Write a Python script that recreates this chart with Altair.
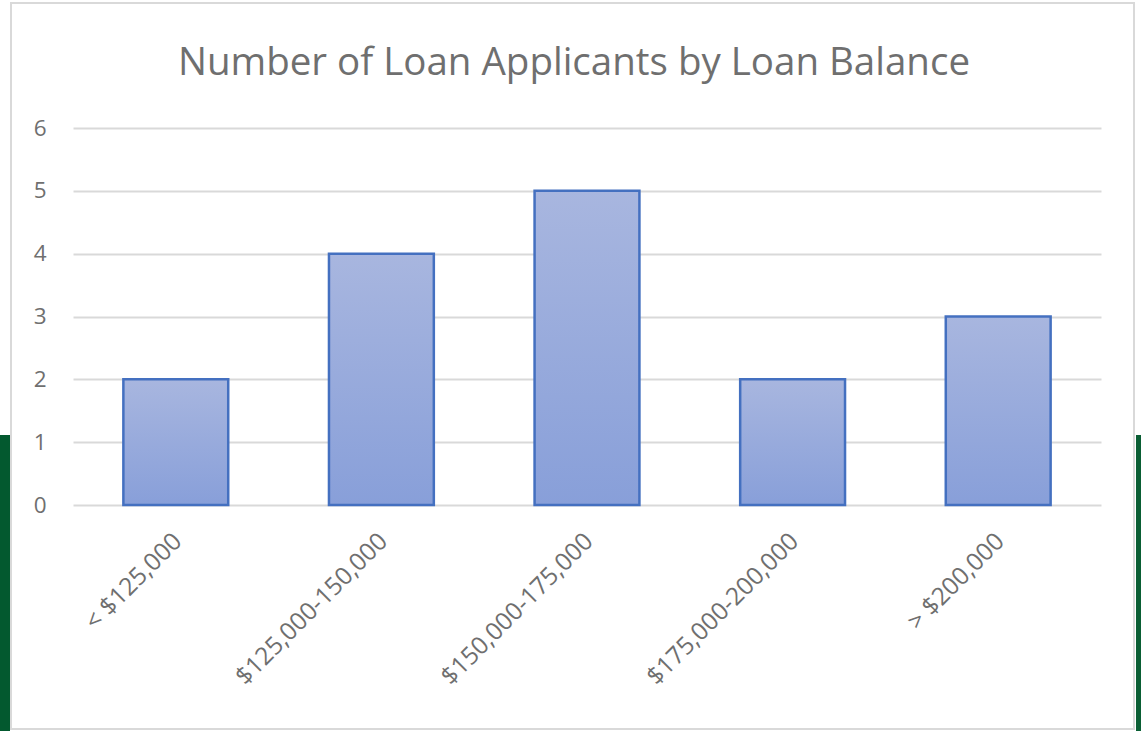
import altair as alt
import pandas as pd

categories = ["< $125,000", "$125,000-150,000", "$150,000-175,000", "$175,000-200,000", "> $200,000"]
applicants = [2, 4, 5, 2, 3]
y_ticks = [0, 1, 2, 3, 4, 5, 6]
chart_title = "Number of Loan Applicants by Loan Balance"

df = pd.DataFrame({"balance": categories, "count": applicants})

FONT = "Open Sans"
GRAY = "#6f6f6f"
W, H = 1028, 377
PL, PT = 73, 128

one = alt.Data(values=[{"k": 0}])

border = alt.Chart(one).mark_rect(fill="transparent", stroke="#d9d9d9", strokeWidth=2).encode(
    x=alt.value(11 - PL), x2=alt.value(1134 - PL),
    y=alt.value(3 - PT), y2=alt.value(729 - PT),
)
green_left = alt.Chart(one).mark_rect(fill="#03592f").encode(
    x=alt.value(0 - PL), x2=alt.value(10 - PL),
    y=alt.value(435 - PT), y2=alt.value(731 - PT),
)
green_right = alt.Chart(one).mark_rect(fill="#0a5e34").encode(
    x=alt.value(1136 - PL), x2=alt.value(1141 - PL),
    y=alt.value(435 - PT), y2=alt.value(731 - PT),
)
title = alt.Chart(alt.Data(values=[{"t": chart_title}])).mark_text(
    font=FONT, fontSize=38.5, color=GRAY, align="center", baseline="alphabetic"
).encode(
    text="t:N", x=alt.value(574 - PL), y=alt.value(75 - PT),
)

bars = alt.Chart(df).mark_bar(
    color=alt.Gradient(
        gradient="linear",
        stops=[alt.GradientStop(color="#a8b6df", offset=0),
               alt.GradientStop(color="#889fd9", offset=1)],
        x1=0, x2=0, y1=0, y2=1,
    ),
    stroke="#4470c0",
    strokeWidth=2.5,
).encode(
    x=alt.X("balance:N", sort=categories, title=None,
            scale=alt.Scale(paddingInner=0.49, paddingOuter=0.245),
            axis=alt.Axis(labelAngle=-45, labelFont=FONT, labelFontSize=24.5,
                          labelColor=GRAY, labelPadding=24, labelOffset=-6,
                          labelLimit=500, ticks=False, domain=False, grid=False)),
    y=alt.Y("count:Q", title=None,
            scale=alt.Scale(domain=[0, 6], nice=False),
            axis=alt.Axis(values=y_ticks, labelFont=FONT, labelFontSize=22.5,
                          labelColor=GRAY, labelPadding=27, ticks=False,
                          domain=False, grid=True, gridColor="#d9d9d9",
                          gridWidth=2)),
)

chart = alt.layer(border, green_left, green_right, title, bars).properties(
    width=W, height=H,
    padding={"left": PL, "top": PT, "right": 1141 - PL - W, "bottom": 731 - PT - H},
    autosize=alt.AutoSizeParams(type="none"),
    background="white",
).configure_view(stroke=None)

chart.save("out.html", embed_options={"renderer": "svg", "actions": False})
